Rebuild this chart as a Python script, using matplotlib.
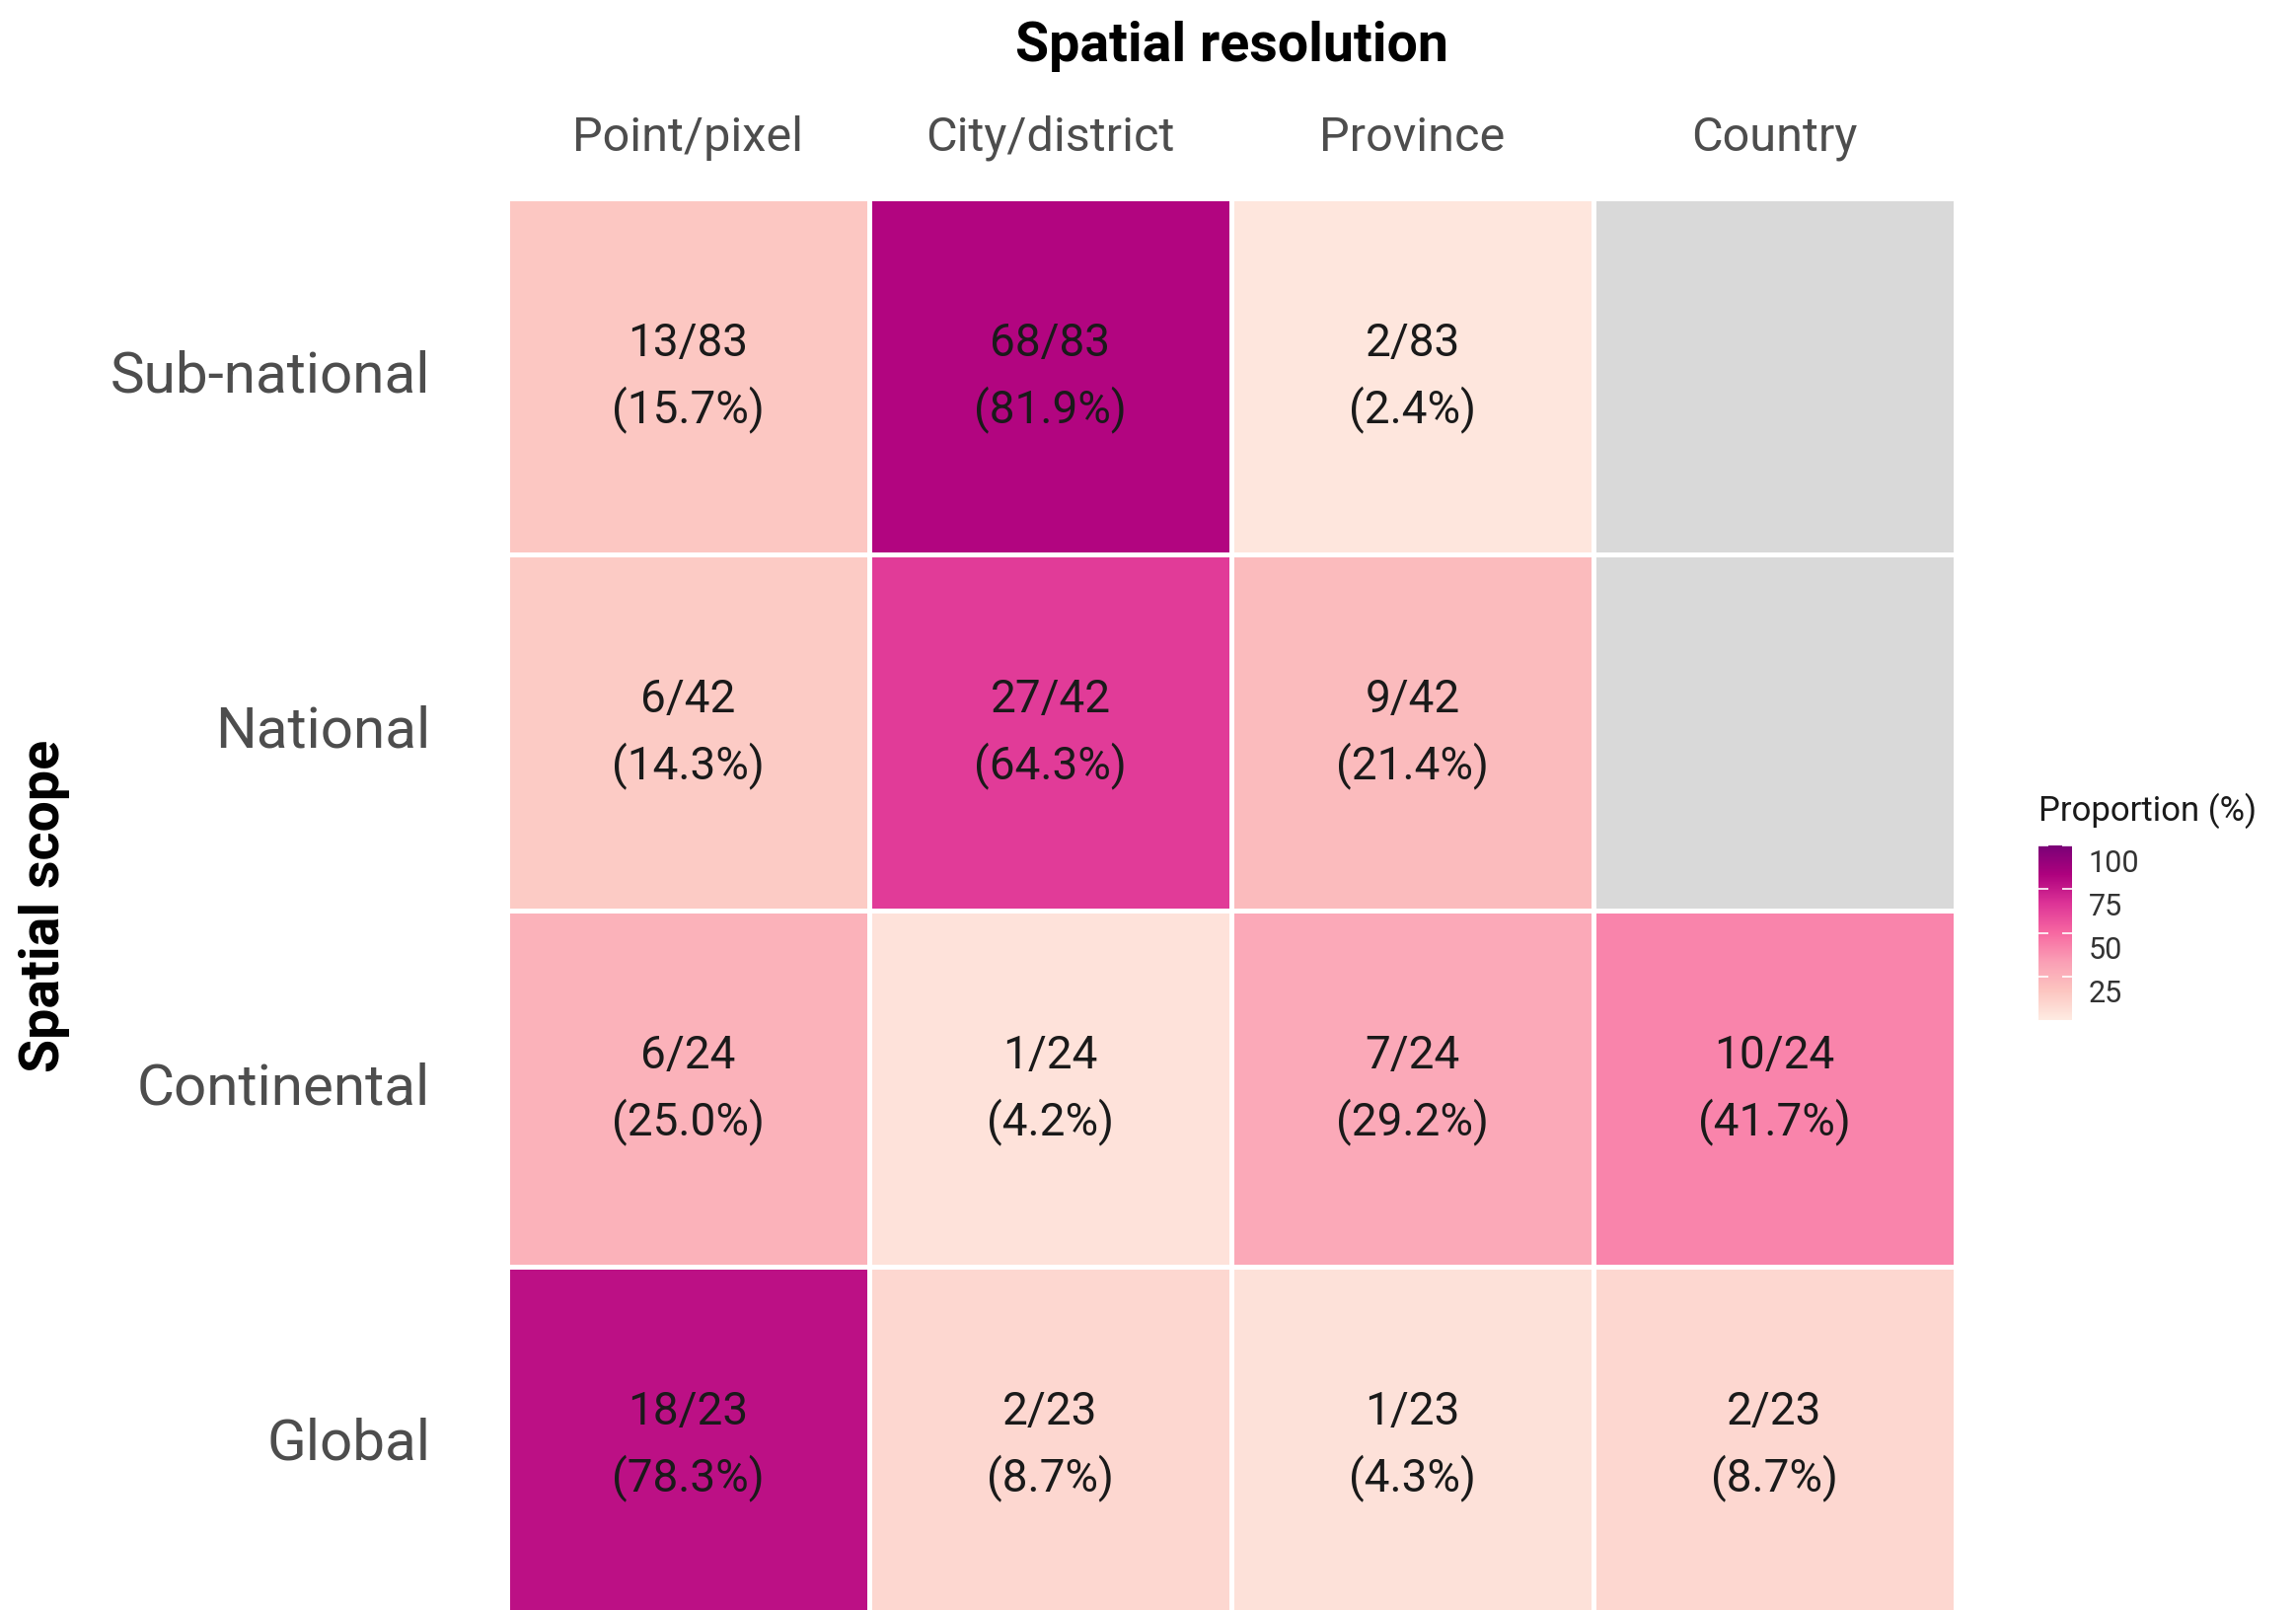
import numpy as np
import matplotlib.pyplot as plt
from matplotlib.colors import LinearSegmentedColormap, Normalize
from matplotlib.transforms import ScaledTranslation

plt.rcParams["font.family"] = ["Roboto", "DejaVu Sans"]

# --- Data ---
scopes = ["Sub-national", "National", "Continental", "Global"]
resolutions = ["Point/pixel", "City/district", "Province", "Country"]
totals = [83, 42, 24, 23]
counts = [
    [13, 68, 2, np.nan],
    [6, 27, 9, np.nan],
    [6, 1, 7, 10],
    [18, 2, 1, 2],
]

counts_arr = np.array(counts, dtype=float)
totals_arr = np.array(totals, dtype=float)[:, None]
pct = counts_arr / totals_arr * 100

# RdPu (7 class, as in ggplot's distiller)
rdpu7 = ["#feebe2", "#fcc5c0", "#fa9fb5", "#f768a1", "#dd3497", "#ae017e", "#7a0177"]
cmap = LinearSegmentedColormap.from_list("rdpu7", rdpu7)
cmap.set_bad("#d9d9d9")
norm = Normalize(vmin=0, vmax=100)

W, H = 2327, 1633
fig = plt.figure(figsize=(W / 100, H / 100), dpi=100)

# grid placement in pixels
left, top = 514, 202
cell_w, cell_h = 367, 361
ax = fig.add_axes([left / W, 1 - (top + 4 * cell_h) / H, 4 * cell_w / W, 4 * cell_h / H])

mesh = ax.pcolormesh(np.ma.masked_invalid(pct), cmap=cmap, norm=norm,
                     edgecolors="white", linewidth=3.6)
ax.set_xlim(0, 4)
ax.set_ylim(4, 0)

for i in range(len(scopes)):
    for j in range(len(resolutions)):
        if np.isnan(counts_arr[i, j]):
            continue
        label = f"{int(counts_arr[i, j])}/{totals[i]}\n({pct[i, j]:.1f}%)"
        ax.text(j + 0.5, i + 0.5, label, ha="center", va="center",
                fontsize=33, color="#1a1a1a", linespacing=1.58)

ax.set_xticks(np.arange(4) + 0.5)
ax.set_xticklabels(resolutions)
ax.set_yticks(np.arange(4) + 0.5)
ax.set_yticklabels(scopes)
ax.xaxis.tick_top()
ax.tick_params(axis="x", length=0, pad=28, labelsize=35, labelcolor="#4d4d4d")
ax.tick_params(axis="y", length=0, pad=56, labelsize=42, labelcolor="#4d4d4d")
up = ScaledTranslation(0, 7 / 100, fig.dpi_scale_trans)
for lbl in ax.get_yticklabels():
    lbl.set_transform(lbl.get_transform() + up)
for s in ax.spines.values():
    s.set_visible(False)

fig.text((left + 2 * cell_w) / W, 1 - 47 / H, "Spatial resolution",
         ha="center", va="center", fontsize=40, fontweight="bold")
fig.text(45 / W, 1 - 918 / H, "Spatial scope", rotation=90,
         ha="center", va="center", fontsize=40, fontweight="bold")

# colorbar
cax = fig.add_axes([2066 / W, 1 - 1035 / H, 34 / W, 177 / H])
cb = fig.colorbar(mesh, cax=cax, ticks=[25, 50, 75, 100])
cb.outline.set_visible(False)
cax.tick_params(axis="y", left=True, right=True, direction="in", length=7,
                width=1.2, color="white", labelcolor="#333333", labelsize=22, pad=12)
down = ScaledTranslation(0, -14 / 100, fig.dpi_scale_trans)
for lbl in cax.get_yticklabels():
    lbl.set_transform(lbl.get_transform() + down)
fig.text(2066 / W, 1 - 822 / H, "Proportion (%)", ha="left", va="center",
         fontsize=25, color="#1a1a1a")

plt.savefig("out.png", dpi=100)
